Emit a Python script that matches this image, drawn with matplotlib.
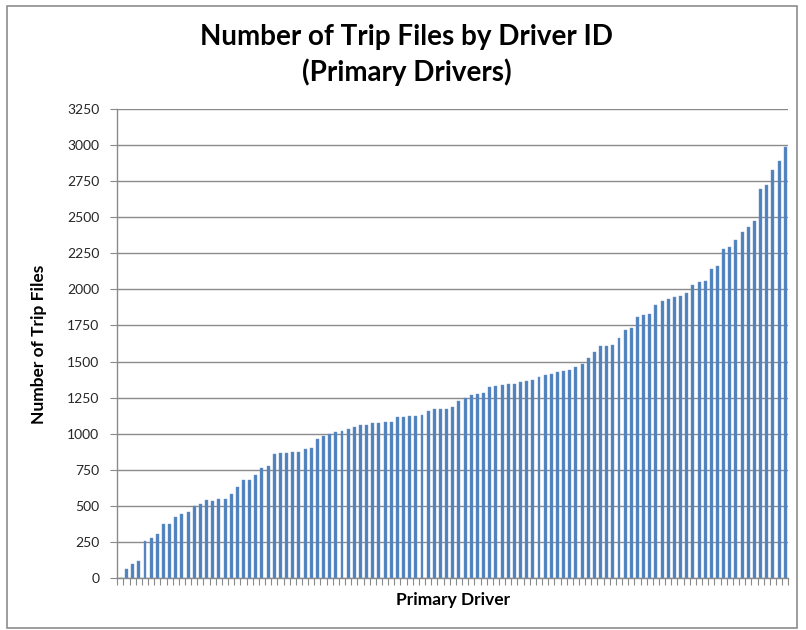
import matplotlib
matplotlib.use("Agg")
import matplotlib.pyplot as plt
from matplotlib.patches import Rectangle

# ---- data ----
title_line1 = "Number of Trip Files by Driver ID"
title_line2 = "(Primary Drivers)"
x_label = "Primary Driver"
y_label = "Number of Trip Files"
y_ticks = [0, 250, 500, 750, 1000, 1250, 1500, 1750, 2000, 2250, 2500, 2750, 3000, 3250]

trip_files = [
    0, 67, 99, 120, 255, 276, 308, 373, 373, 425, 446,
    458, 497, 511, 541, 538, 552, 552, 580, 635, 683,
    683, 716, 763, 777, 862, 864, 864, 871, 876, 892,
    899, 961, 984, 1002, 1012, 1016, 1032, 1044, 1058, 1058,
    1074, 1074, 1081, 1079, 1119, 1119, 1121, 1121, 1128, 1155,
    1172, 1172, 1172, 1188, 1225, 1248, 1266, 1273, 1285, 1326,
    1331, 1335, 1347, 1347, 1358, 1366, 1373, 1396, 1405, 1415,
    1431, 1435, 1442, 1461, 1486, 1523, 1565, 1608, 1608, 1615,
    1661, 1717, 1733, 1811, 1823, 1830, 1888, 1918, 1930, 1945,
    1956, 1972, 2030, 2048, 2058, 2138, 2159, 2279, 2290, 2343,
    2396, 2429, 2473, 2696, 2724, 2825, 2890, 2987,
]
drivers = list(range(len(trip_files)))

# ---- figure ----
W, H = 806, 630
fig = plt.figure(figsize=(W / 100, H / 100), dpi=100)
fig.patch.set_facecolor("white")

# outer chart border
fig.patches.append(Rectangle((7 / W, 1 - 628 / H), (797 - 7) / W, (628 - 6) / H,
                             transform=fig.transFigure, fill=False,
                             edgecolor="#8c8c8c", linewidth=1.2))

left, right = 117.3 / W, 788.3 / W
bottom, top = 1 - 578.3 / H, 1 - 108.7 / H
ax = fig.add_axes([left, bottom, right - left, top - bottom])

grid_col = "#8a8a8a"
ax.bar(drivers, trip_files, width=0.48, color="#4F81BD", edgecolor="#6d97c9",
       linewidth=0.3, zorder=3)

ax.set_xlim(-0.5, len(trip_files) - 0.5)
ax.set_ylim(0, 3250)
ax.set_yticks(y_ticks)
ax.set_yticklabels([str(v) for v in y_ticks])
ax.yaxis.grid(True, color=grid_col, linewidth=1.0, zorder=0)
ax.set_axisbelow(True)

# category boundary ticks on x axis
ax.set_xticks([i - 0.5 for i in range(len(trip_files) + 1)])
ax.set_xticklabels([])
ax.tick_params(axis="x", length=5, width=0.8, color=grid_col, direction="out")
ax.tick_params(axis="y", length=5, width=0.8, color=grid_col, direction="out",
               pad=8, labelsize=10, labelcolor="#262626")
for lab in ax.get_yticklabels():
    lab.set_fontfamily("Lato")

for s in ["top", "right"]:
    ax.spines[s].set_visible(False)
for s in ["left", "bottom"]:
    ax.spines[s].set_color(grid_col)
    ax.spines[s].set_linewidth(1.0)

# titles / labels
fig.text(406 / W, 1 - 37 / H, title_line1, ha="center", va="center",
         fontsize=20, fontweight="bold", family="Lato", color="black")
fig.text(407 / W, 1 - 72 / H, title_line2, ha="center", va="center",
         fontsize=20, fontweight="bold", family="Lato", color="black")
fig.text(452.8 / W, 1 - 600 / H, x_label, ha="center", va="center",
         fontsize=12.5, fontweight="bold", family="Lato", color="black")
fig.text(39 / W, 1 - 344 / H, y_label, ha="center", va="center", rotation=90,
         fontsize=12.5, fontweight="bold", family="Lato", color="black")

fig.savefig("out.png", dpi=100, facecolor="white")
